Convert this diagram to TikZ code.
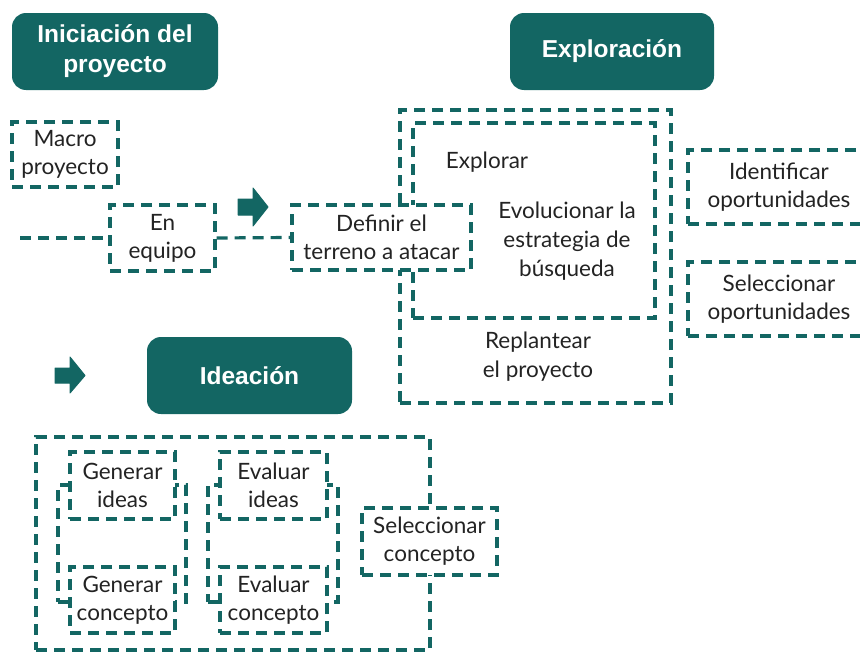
\documentclass[tikz,border=0pt]{standalone}
\usepackage{fontspec}
\setmainfont{Lato}
\newfontfamily\headfont{Liberation Sans}
\definecolor{teal}{RGB}{19,102,99}
\definecolor{ink}{RGB}{35,35,35}
\tikzset{
  dashline/.style={draw=teal, line width=3.2pt, dash pattern=on 11pt off 7pt},
  dbox/.style={dashline, fill=white, inner sep=0pt, align=center, text=ink,
    font=\fontsize{22.5}{28}\selectfont},
  frame/.style={dashline, inner sep=0pt},
  label/.style={align=center, inner sep=0pt, text=ink, font=\fontsize{22.5}{29}\selectfont},
  header/.style={fill=teal, rounded corners=14pt, inner sep=0pt, align=center,
    text=white, font=\headfont\bfseries\fontsize{24.5}{30}\selectfont},
  fatarrow/.style={fill=teal, draw=teal, line width=1pt, line join=round},
  link/.style={dashline}
}
\begin{document}
\begin{tikzpicture}[x=1pt, y=-1pt]
\useasboundingbox (0,0) rectangle (860,653);
\begin{scope}
\clip (0,0) rectangle (860,653);

% section headers
\node[header, minimum width=206pt, minimum height=77pt] (hini) at (115,51.5) {Iniciación del\\proyecto};
\node[header, minimum width=204pt, minimum height=77pt] (hexp) at (612,51.5) {Exploración};
\node[header, minimum width=205pt, minimum height=77pt] (hide) at (249.5,375.5) {Ideación};

% arrows
\fill[fatarrow] (238,199) -- (253,199) -- (253,188) -- (268,207) -- (253,226) -- (253,215) -- (238,215) -- cycle;
\fill[fatarrow] (55,368) -- (70,368) -- (70,357) -- (85,375.5) -- (70,393) -- (70,383) -- (55,383) -- cycle;

% initiation
\coordinate (start) at (20,238);
\node[dbox, minimum width=106pt, minimum height=65pt] (macro) at (65,154.5) {Macro\\proyecto};

% exploration frames
\node[frame, minimum width=271pt, minimum height=293pt] (expout) at (535.5,256.5) {};
\node[frame, minimum width=242pt, minimum height=195pt] (expin) at (534,220.5) {};
\node[label] (explorar) at (487,162) {Explorar};
\node[label] (evol) at (567,241) {Evolucionar la\\estrategia de\\búsqueda};
\node[label] (replan) at (538,357) {Replantear\\el proyecto};

\node[dbox, minimum width=105pt, minimum height=66pt] (equipo) at (162.5,238) {En\\equipo};
\node[dbox, minimum width=179pt, minimum height=65pt] (definir) at (381.5,237.5) {Definir el\\terreno a atacar};
\draw[link] (start) -- (equipo.west);
\draw[link] (equipo.east) -- (definir.west);

\node[dbox, minimum width=182pt, minimum height=74pt] (ident) at (779,187) {Identificar\\oportunidades};
\node[dbox, minimum width=182pt, minimum height=74pt] (selop) at (779,299) {Seleccionar\\oportunidades};

% ideation
\node[frame, minimum width=394pt, minimum height=213pt] (ideout) at (233,543.5) {};
\node[frame, minimum width=128pt, minimum height=117pt] (genframe) at (122,543.5) {};
\node[frame, minimum width=130pt, minimum height=117pt] (evaframe) at (273,543.5) {};
\node[dbox, minimum width=105pt, minimum height=67pt] (genid) at (122.5,485.5) {Generar\\ideas};
\node[dbox, minimum width=105pt, minimum height=66pt] (genco) at (122.5,600) {Generar\\concepto};
\node[dbox, minimum width=107pt, minimum height=67pt] (evaid) at (273.5,485.5) {Evaluar\\ideas};
\node[dbox, minimum width=107pt, minimum height=66pt] (evaco) at (273.5,600) {Evaluar\\concepto};
\node[dbox, minimum width=135pt, minimum height=67pt] (selco) at (429.5,541.5) {Seleccionar\\concepto};
\end{scope}
\end{tikzpicture}
\end{document}
